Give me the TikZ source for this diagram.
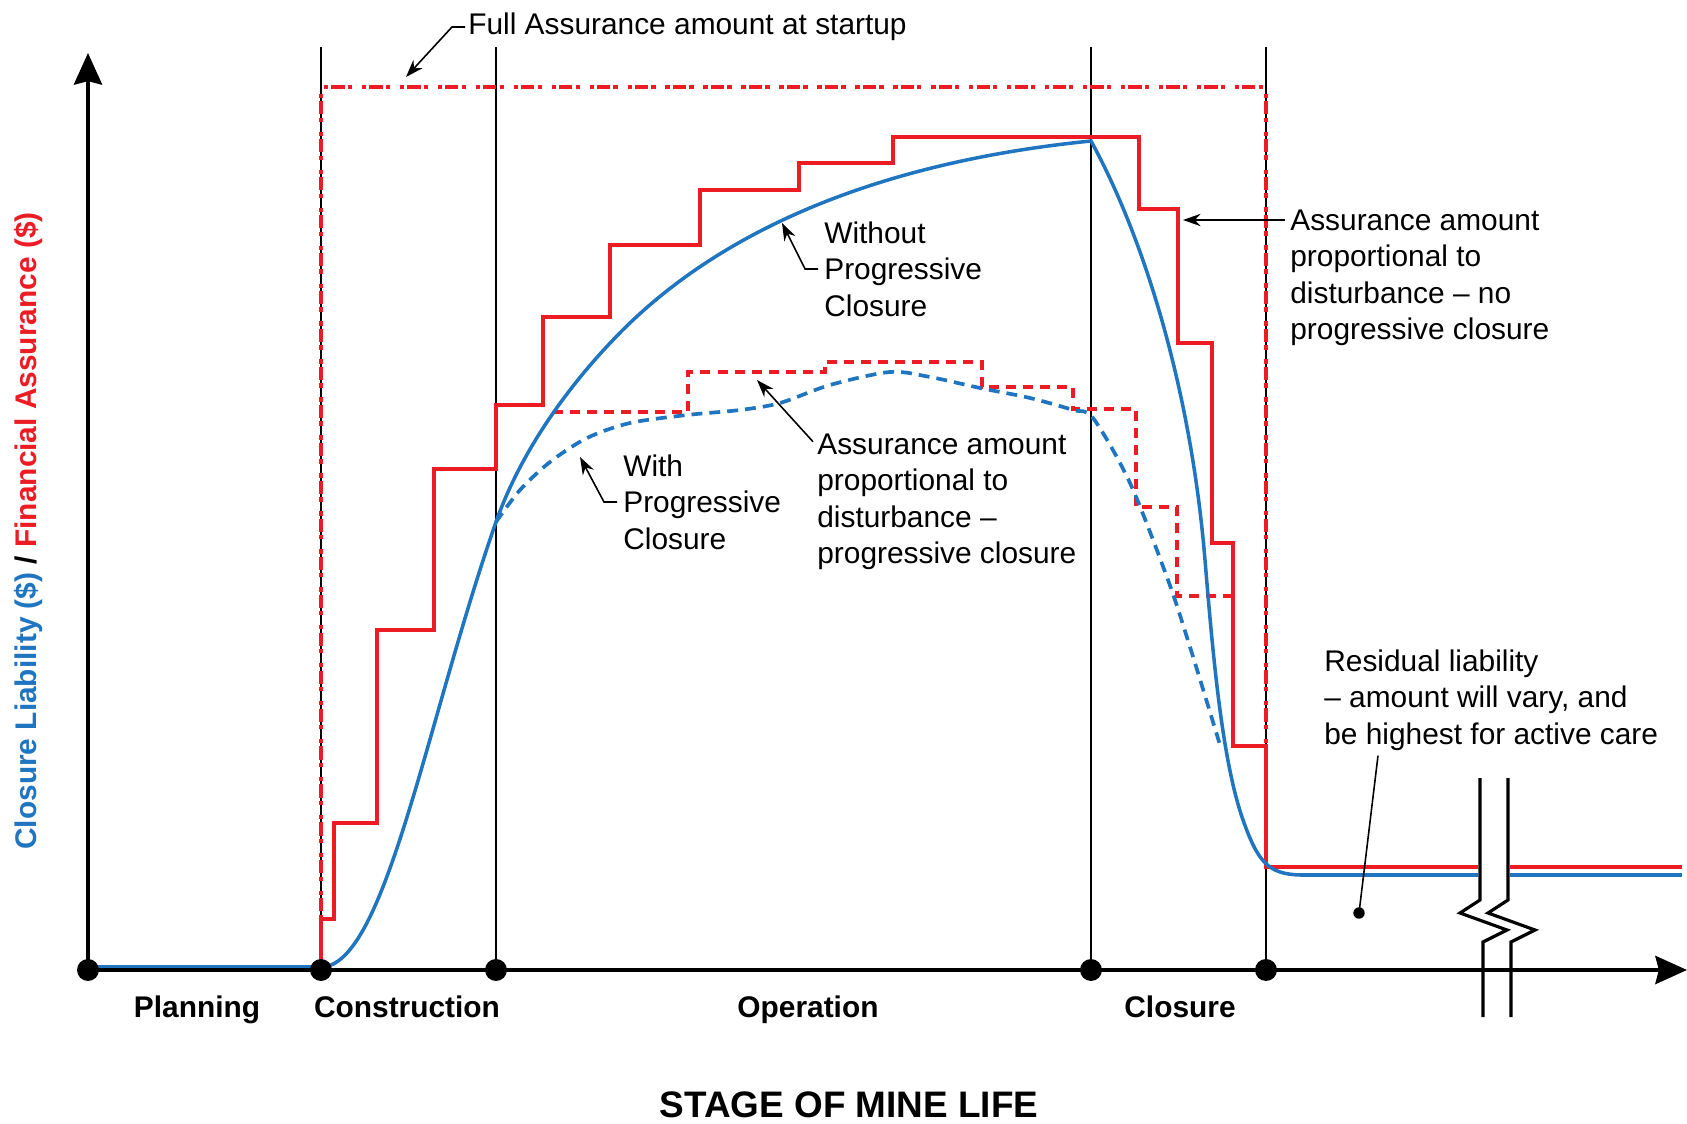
\documentclass[tikz,border=0pt]{standalone}
\usepackage{fontspec}
\setmainfont{Liberation Sans}
\usetikzlibrary{arrows.meta}
\definecolor{liabblue}{RGB}{31,117,192}
\definecolor{assurred}{RGB}{237,28,36}

\begin{document}
\begin{tikzpicture}[x=0.02cm, y=-0.02cm,
    every node/.style = {inner sep=0pt, align=left, font=\fontsize{17}{20.7}\selectfont},
    axis/.style = {line width=2.2pt, -{Stealth[length=18pt, width=16pt, inset=2pt]}},
    phase/.style = {line width=0.9pt},
    stage/.style = {anchor=base, font=\fontsize{17}{20}\selectfont\bfseries},
    milestone/.style = {circle, fill=black, minimum size=12.5pt},
    liability/.style = {draw=liabblue, line width=2pt},
    progliab/.style = {draw=liabblue, line width=2.1pt, dash pattern=on 6.2pt off 4pt},
    assurance/.style = {draw=assurred, line width=2.3pt},
    progassur/.style = {draw=assurred, line width=1.9pt, dash pattern=on 5.7pt off 4pt},
    fullassur/.style = {draw=assurred, line width=2.8pt, dash pattern=on 2.5pt off 1.8pt on 7.5pt off 1.8pt on 2.5pt off 5.5pt},
    callout/.style = {line width=0.9pt, -{Stealth[length=10pt, width=7pt]}},
    breakmark/.style = {line width=1.8pt}]
    \useasboundingbox (0,0) rectangle (1687,1124);

    \coordinate (origin) at (88,970);
    \coordinate (start) at (321,970);
    \coordinate (build) at (496,970);
    \coordinate (stop) at (1091,970);
    \coordinate (closed) at (1266,970);
    \coordinate (top) at (0,47);
    \coordinate (xtip) at (1687,970);
    \coordinate (ytip) at (88,53);

    % stage boundaries
    \draw[phase] (start) -- (start |- top);
    \draw[phase] (build) -- (build |- top);
    \draw[phase] (stop) -- (stop |- top);
    \draw[phase] (closed) -- (closed |- top);

    \draw[fullassur] (321,919) -- (321,87) -- (1266,87) -- (1266,746);

    \draw[assurance] (321,968) |- (334,919) |- (377,823) |- (434,630) |- (496,469) |- (543,405)
        |- (610,317) |- (700,245) |- (799,190) |- (893,163) |- (1139,137) |- (1178,209)
        |- (1212,343) |- (1233,543) |- (1266,746) |- (1478,867);
    \draw[assurance] (1510,867) -- (1682,867);

    \draw[progassur] (553,412) -| (688,372) -| (825,362) -| (982,387) -| (1073,409)
        -| (1136,507) -| (1177,596) -- (1233,596);

    \draw[liability] (88,967) -- (321,967)
        .. controls (385,967) and (426,722) .. (496,522)
        .. controls (521,451) and (568,387) .. (613,340)
        .. controls (723,224) and (891,161) .. (1091,141)
        .. controls (1140,230) and (1190,380) .. (1205,560)
        .. controls (1213,656) and (1222,760) .. (1243,820)
        .. controls (1258,862) and (1268,874) .. (1300,875) -- (1478,875);
    \draw[liability] (1510,875) -- (1682,875);

    \draw[progliab] plot[smooth] coordinates {(496,522) (520,490) (550,462) (587,438) (630,423)
        (687,415) (740,410) (780,403) (830,385) (890,372) (930,377) (980,388) (1030,398)
        (1073,410) (1093,418) (1130,483) (1168,580) (1190,647) (1220,745)};

    % axes
    \draw[axis] (origin) -- (xtip);
    \draw[axis] (origin) -- (ytip);

    \node[milestone] (m0) at (origin) {};
    \node[milestone] (m1) at (start) {};
    \node[milestone] (m2) at (build) {};
    \node[milestone] (m3) at (stop) {};
    \node[milestone] (m4) at (closed) {};

    \draw[breakmark] (1480,778) -- (1480,900) -- (1460,913) -- (1507,930) -- (1483,942) -- (1483,1017);
    \draw[breakmark] (1508,778) -- (1508,900) -- (1488,913) -- (1535,930) -- (1511,942) -- (1511,1017);

    \node[stage] (lblPlanning) at (197,1017) {Planning};
    \node[stage] (lblConstruction) at (407,1017) {Construction};
    \node[stage] (lblOperation) at (808,1017) {Operation};
    \node[stage] (lblClosure) at (1180,1017) {Closure};
    \node[stage, font=\fontsize{21}{24}\selectfont\bfseries] (lblStage) at (849,1117) {STAGE OF MINE LIFE};
    \node[font=\fontsize{17}{20}\selectfont\bfseries, rotate=90] (lblAxis) at (29,531)
        {\textcolor{liabblue}{Closure Liability (\$)} / \textcolor{assurred}{Financial Assurance (\$)}};

    % callouts
    \node[anchor=west] (lblFull) at (468,27) {Full Assurance amount at startup};
    \coordinate (tipFull) at (406,77);
    \draw[callout] (lblFull.west) ++(-3,0) -- ++(-13,0) -- (tipFull);

    \node[anchor=west] (lblWithout) at (824,269) {Without\\Progressive\\Closure};
    \coordinate (tipWithout) at (782,223);
    \draw[callout] (lblWithout.west) ++(-6,0) -- ++(-13,0) -- (tipWithout);

    \node[anchor=west] (lblWith) at (623,502) {With\\Progressive\\Closure};
    \coordinate (tipWith) at (580,457);
    \draw[callout] (lblWith.west) ++(-6,0) -- ++(-13,0) -- (tipWith);

    \node[anchor=west] (lblProgAssur) at (817,502)
        {Assurance amount\\proportional to\\disturbance \textendash\\progressive closure};
    \coordinate (tipProgAssur) at (757,380);
    \draw[callout] (lblProgAssur.north west) ++(-4,8) -- (tipProgAssur);

    \node[anchor=west] (lblNoProg) at (1290,278)
        {Assurance amount\\proportional to\\disturbance \textendash{} no\\progressive closure};
    \coordinate (tipNoProg) at (1183,220);
    \draw[callout] (lblNoProg.west |- tipNoProg) ++(-5,0) -- (tipNoProg);

    \node[anchor=west] (lblResidual) at (1324,700)
        {Residual liability\\\textendash{} amount will vary, and\\be highest for active care};
    \node[circle, fill=black, minimum size=6.5pt] (resDot) at (1359,913) {};
    \draw[line width=0.9pt] (lblResidual.south west) ++(54,5) -- (resDot.center);
\end{tikzpicture}
\end{document}
